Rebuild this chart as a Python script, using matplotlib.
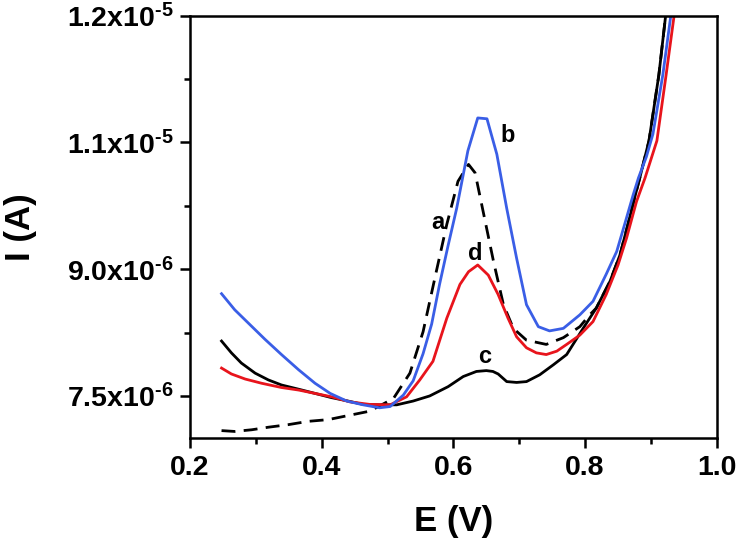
import matplotlib
matplotlib.use("Agg")
import matplotlib.pyplot as plt
from matplotlib.ticker import FixedLocator

plt.rcParams['font.family'] = ['Liberation Sans', 'DejaVu Sans']
plt.rcParams['mathtext.fontset'] = 'custom'
plt.rcParams['mathtext.rm'] = 'Liberation Sans:bold'
plt.rcParams['mathtext.it'] = 'Liberation Sans:bold'
plt.rcParams['mathtext.bf'] = 'Liberation Sans:bold'
plt.rcParams['mathtext.default'] = 'bf'

# ---------------------------------------------------------------------------
# Dados (E em V, I em microamperes)
# ---------------------------------------------------------------------------
# a - tracejado
E_a = [0.248, 0.268, 0.294, 0.319, 0.349, 0.380, 0.410, 0.435, 0.473, 0.509,
       0.534, 0.554, 0.574, 0.590, 0.607, 0.623, 0.633, 0.645, 0.661, 0.676,
       0.691, 0.711, 0.741, 0.767, 0.792, 0.807, 0.817, 0.838, 0.853, 0.865,
       0.875, 0.883, 0.897, 0.912, 0.923]
I_a = [7.09, 7.08, 7.10, 7.13, 7.16, 7.20, 7.22, 7.26, 7.32, 7.47,
       7.77, 8.26, 8.97, 9.53, 10.04, 10.24, 10.14, 9.69, 9.09, 8.58,
       8.30, 8.16, 8.11, 8.19, 8.32, 8.46, 8.54, 8.86, 9.17, 9.53,
       9.84, 10.08, 10.52, 11.30, 12.05]

# b - azul
E_b = [0.248, 0.268, 0.289, 0.314, 0.339, 0.365, 0.390, 0.413, 0.438, 0.463,
       0.488, 0.504, 0.524, 0.539, 0.554, 0.567, 0.579, 0.592, 0.605, 0.622,
       0.637, 0.651, 0.666, 0.681, 0.696, 0.711, 0.729, 0.746, 0.767, 0.792,
       0.812, 0.832, 0.848, 0.860, 0.873, 0.881, 0.893, 0.903, 0.918, 0.931]
I_b = [8.71, 8.52, 8.36, 8.17, 7.99, 7.81, 7.65, 7.53, 7.44, 7.395,
       7.36, 7.375, 7.51, 7.68, 8.00, 8.35, 8.82, 9.28, 9.72, 10.40,
       10.79, 10.78, 10.36, 9.72, 9.13, 8.58, 8.32, 8.27, 8.30, 8.46,
       8.62, 8.94, 9.21, 9.53, 9.88, 10.08, 10.33, 10.60, 11.30, 12.05]

# c - preto
E_c = [0.248, 0.263, 0.278, 0.299, 0.319, 0.339, 0.365, 0.390, 0.415, 0.440,
       0.463, 0.488, 0.514, 0.539, 0.564, 0.592, 0.615, 0.635, 0.650, 0.660,
       0.668, 0.681, 0.696, 0.711, 0.731, 0.752, 0.772, 0.797, 0.817, 0.838,
       0.853, 0.865, 0.875, 0.883, 0.897, 0.912, 0.923]
I_c = [8.15, 8.01, 7.89, 7.77, 7.69, 7.63, 7.58, 7.53, 7.48, 7.44,
       7.40, 7.395, 7.395, 7.44, 7.50, 7.61, 7.73, 7.79, 7.80, 7.79,
       7.76, 7.67, 7.66, 7.67, 7.75, 7.87, 7.99, 8.30, 8.54, 8.86,
       9.17, 9.53, 9.84, 10.08, 10.52, 11.30, 12.05]

# d - vermelho
E_d = [0.248, 0.263, 0.284, 0.309, 0.339, 0.365, 0.390, 0.415, 0.443, 0.473,
       0.504, 0.529, 0.549, 0.569, 0.590, 0.610, 0.623, 0.637, 0.653, 0.668,
       0.683, 0.696, 0.711, 0.726, 0.741, 0.757, 0.772, 0.792, 0.812, 0.832,
       0.850, 0.863, 0.878, 0.891, 0.909, 0.923, 0.936]
I_d = [7.83, 7.76, 7.70, 7.65, 7.60, 7.57, 7.53, 7.49, 7.43, 7.40,
       7.395, 7.49, 7.69, 7.91, 8.42, 8.82, 8.97, 9.05, 8.93, 8.70,
       8.42, 8.20, 8.07, 8.01, 7.99, 8.03, 8.11, 8.22, 8.38, 8.70,
       9.05, 9.37, 9.80, 10.08, 10.52, 11.30, 12.05]

ytick_vals = [7.5e-6, 9.0e-6, 1.05e-5, 1.2e-5]
ytick_labels = [r'7.5x10$^{\text{-}6}$', r'9.0x10$^{\text{-}6}$',
                r'1.1x10$^{\text{-}5}$', r'1.2x10$^{\text{-}5}$']
xtick_vals = [0.2, 0.4, 0.6, 0.8, 1.0]
xtick_labels = ['0.2', '0.4', '0.6', '0.8', '1.0']

# ---------------------------------------------------------------------------
# Grafico
# ---------------------------------------------------------------------------
fig = plt.figure(figsize=(7.39, 5.41), dpi=100)
ax = fig.add_axes([0.257, 0.19, 0.713, 0.781])

lw = 2.0
ax.plot(E_a, [v * 1e-6 for v in I_a], color='black', lw=lw, dashes=(5, 3))
ax.plot(E_c, [v * 1e-6 for v in I_c], color='black', lw=lw)
ax.plot(E_d, [v * 1e-6 for v in I_d], color='#e8141c', lw=lw)
ax.plot(E_b, [v * 1e-6 for v in I_b], color='#3a5ee6', lw=lw)

# letras das curvas
lab = dict(fontsize=17, fontweight='bold', ha='center', va='center')
ax.text(0.576, 9.55e-6, 'a', **lab)
ax.text(0.683, 10.58e-6, 'b', **lab)
ax.text(0.648, 7.97e-6, 'c', **lab)
ax.text(0.633, 9.18e-6, 'd', **lab)

ax.set_xlim(0.2, 1.0)
ax.set_ylim(7.0e-6, 1.2e-5)

ax.xaxis.set_major_locator(FixedLocator(xtick_vals))
ax.xaxis.set_minor_locator(FixedLocator([0.3, 0.5, 0.7, 0.9]))
ax.set_xticklabels(xtick_labels)
ax.yaxis.set_major_locator(FixedLocator(ytick_vals))
ax.yaxis.set_minor_locator(FixedLocator([8.25e-6, 9.75e-6, 1.125e-5]))
ax.set_yticklabels(ytick_labels)

ax.tick_params(which='major', direction='out', length=7, width=1.8,
               labelsize=20.5, pad=5)
ax.tick_params(which='minor', direction='out', length=4.5, width=1.8)
for t in ax.get_xticklabels() + ax.get_yticklabels():
    t.set_fontweight('bold')
for s in ax.spines.values():
    s.set_linewidth(1.8)

ax.set_xlabel('E (V)', fontsize=25, fontweight='bold')
ax.set_ylabel('I (A)', fontsize=25, fontweight='bold')
ax.xaxis.set_label_coords(0.5, -0.158)
ax.yaxis.set_label_coords(-0.29, 0.5)

fig.savefig('out.png', dpi=100)
